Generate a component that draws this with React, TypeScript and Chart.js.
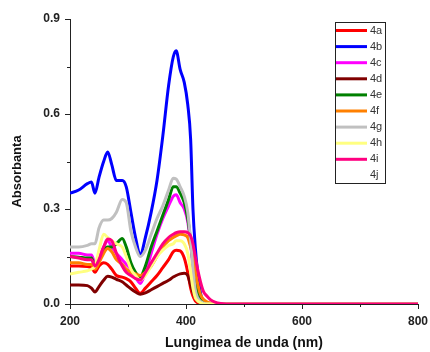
import React, { useEffect, useRef } from "react";
import { Chart, registerables } from "chart.js";

Chart.register(...registerables);

const wavelengths = [200, 215, 230, 237, 243, 250, 258, 265, 272, 280, 290, 297, 305, 313, 321, 330, 340, 350, 360, 370, 378, 383, 390, 397, 403, 408, 412, 416, 420, 425, 430, 436, 442, 450, 460, 480, 600, 800];

const series4a = [0.12, 0.12, 0.118, 0.115, 0.10, 0.12, 0.13, 0.125, 0.11, 0.09, 0.085, 0.08, 0.07, 0.05, 0.034, 0.05, 0.07, 0.09, 0.115, 0.14, 0.165, 0.17, 0.168, 0.145, 0.10, 0.05, 0.025, 0.01, 0.004, 0, 0, 0, 0, 0, 0, 0, 0, 0];
const series4b = [0.35, 0.36, 0.38, 0.385, 0.35, 0.40, 0.45, 0.48, 0.44, 0.39, 0.39, 0.37, 0.29, 0.21, 0.155, 0.21, 0.29, 0.39, 0.53, 0.69, 0.78, 0.80, 0.74, 0.70, 0.63, 0.52, 0.30, 0.18, 0.10, 0.035, 0.005, 0, 0, 0, 0, 0, 0, 0];
const series4c = [0.16, 0.16, 0.155, 0.155, 0.13, 0.15, 0.18, 0.20, 0.18, 0.16, 0.14, 0.125, 0.11, 0.085, 0.065, 0.10, 0.16, 0.22, 0.27, 0.31, 0.34, 0.345, 0.32, 0.30, 0.26, 0.19, 0.12, 0.06, 0.03, 0.015, 0.005, 0, 0, 0, 0, 0, 0, 0];
const series4d = [0.06, 0.06, 0.058, 0.05, 0.038, 0.055, 0.075, 0.088, 0.085, 0.078, 0.07, 0.06, 0.048, 0.038, 0.031, 0.035, 0.045, 0.055, 0.065, 0.075, 0.085, 0.09, 0.095, 0.097, 0.09, 0.06, 0.038, 0.02, 0.01, 0.004, 0, 0, 0, 0, 0, 0, 0, 0];
const series4e = [0.15, 0.148, 0.145, 0.145, 0.12, 0.14, 0.17, 0.18, 0.18, 0.19, 0.207, 0.18, 0.13, 0.10, 0.086, 0.12, 0.18, 0.23, 0.28, 0.33, 0.37, 0.37, 0.35, 0.32, 0.27, 0.20, 0.13, 0.07, 0.035, 0.015, 0.006, 0.002, 0, 0, 0, 0, 0, 0];
const series4f = [0.13, 0.13, 0.125, 0.125, 0.11, 0.13, 0.16, 0.175, 0.165, 0.14, 0.125, 0.11, 0.10, 0.095, 0.09, 0.10, 0.12, 0.15, 0.18, 0.20, 0.21, 0.215, 0.22, 0.218, 0.21, 0.18, 0.15, 0.105, 0.065, 0.03, 0.015, 0.007, 0.003, 0, 0, 0, 0, 0];
const series4g = [0.18, 0.18, 0.185, 0.19, 0.19, 0.24, 0.265, 0.265, 0.27, 0.29, 0.33, 0.32, 0.23, 0.18, 0.15, 0.17, 0.22, 0.27, 0.31, 0.36, 0.397, 0.395, 0.37, 0.34, 0.29, 0.20, 0.11, 0.045, 0.02, 0.008, 0.003, 0, 0, 0, 0, 0, 0, 0];
const series4h = [0.095, 0.10, 0.105, 0.11, 0.12, 0.17, 0.22, 0.21, 0.20, 0.19, 0.18, 0.15, 0.11, 0.09, 0.076, 0.09, 0.12, 0.15, 0.17, 0.185, 0.19, 0.20, 0.20, 0.19, 0.16, 0.10, 0.05, 0.02, 0.01, 0.004, 0, 0, 0, 0, 0, 0, 0, 0];
const series4i = [0.15, 0.145, 0.14, 0.14, 0.12, 0.14, 0.18, 0.205, 0.20, 0.16, 0.12, 0.10, 0.09, 0.08, 0.076, 0.10, 0.13, 0.16, 0.19, 0.21, 0.22, 0.225, 0.228, 0.228, 0.225, 0.215, 0.19, 0.15, 0.11, 0.07, 0.04, 0.025, 0.014, 0.006, 0.002, 0, 0, 0];
const series4j: number[] = [];

const seriesLabels = ["4a", "4b", "4c", "4d", "4e", "4f", "4g", "4h", "4i", "4j"];
const seriesValues = [series4a, series4b, series4c, series4d, series4e, series4f, series4g, series4h, series4i, series4j];
const seriesColors = ["#ff0000", "#0000ff", "#ff00ff", "#800000", "#008000", "#ff8000", "#c0c0c0", "#ffff80", "#ff0080", "rgba(0,0,0,0)"];

const yTickValues = [0, 0.3, 0.6, 0.9];
const xTickValues = [200, 400, 600, 800];
const yTitle = "Absorbanta";
const xTitle = "Lungimea de unda (nm)";

const FONT = "'Liberation Sans', Arial, sans-serif";

const outerTicks = {
  id: "outerTicks",
  afterDraw(chart: any) {
    const { ctx, scales } = chart;
    const x = scales.x;
    const y = scales.y;
    ctx.save();
    ctx.strokeStyle = "#222";
    ctx.lineWidth = 1;
    for (let v = 0; v <= 0.9001; v += 0.15) {
      const major = Math.abs(v / 0.3 - Math.round(v / 0.3)) < 1e-6;
      const py = Math.round(y.getPixelForValue(v)) + 0.5;
      ctx.beginPath();
      ctx.moveTo(x.left, py);
      ctx.lineTo(x.left - (major ? 5 : 3), py);
      ctx.stroke();
    }
    for (let v = 200; v <= 800; v += 100) {
      const major = v % 200 === 0;
      const px = Math.round(x.getPixelForValue(v)) + 0.5;
      ctx.beginPath();
      ctx.moveTo(px, y.bottom);
      ctx.lineTo(px, y.bottom + (major ? 5 : 3));
      ctx.stroke();
    }
    // y axis title
    ctx.translate(17, (chart.chartArea.top + chart.chartArea.bottom) / 2 + 10);
    ctx.rotate(-Math.PI / 2);
    ctx.font = `bold 13px ${FONT}`;
    ctx.fillStyle = "#111";
    ctx.textAlign = "center";
    ctx.textBaseline = "middle";
    ctx.fillText(yTitle, 0, 0);
    ctx.restore();
  },
};

const boxLegend = {
  id: "boxLegend",
  afterDraw(chart: any) {
    const { ctx, chartArea } = chart;
    const left = chartArea.right - 83;
    const top = chartArea.top + 3;
    const w = 50;
    const rowH = 16.1;
    const h = rowH * seriesLabels.length;
    ctx.save();
    ctx.strokeStyle = "#222";
    ctx.lineWidth = 1;
    ctx.strokeRect(left + 0.5, top + 0.5, w, h);
    ctx.font = `11px ${FONT}`;
    ctx.textBaseline = "middle";
    ctx.fillStyle = "#333";
    seriesLabels.forEach((lab, i) => {
      const cy = top + 8.5 + i * rowH;
      ctx.strokeStyle = seriesColors[i];
      ctx.lineWidth = 3;
      ctx.beginPath();
      ctx.moveTo(left + 1, cy);
      ctx.lineTo(left + 32, cy);
      ctx.stroke();
      ctx.fillText(lab, left + 35, cy);
    });
    ctx.restore();
  },
};

export default function App() {
  const ref = useRef<HTMLCanvasElement | null>(null);

  useEffect(() => {
    if (!ref.current) return;
    const datasets = seriesLabels.map((lab, i) => ({
      label: lab,
      data: seriesValues[i].map((v, k) => ({ x: wavelengths[k], y: v })),
      borderColor: seriesColors[i],
      backgroundColor: seriesColors[i],
      borderWidth: 3,
      pointRadius: 0,
      cubicInterpolationMode: "monotone" as const,
      fill: false,
      order: seriesLabels.length - i,
    }));

    const chart = new Chart(ref.current, {
      type: "line",
      data: { datasets },
      options: {
        responsive: false,
        animation: false,
        layout: { padding: { top: 19, right: 12, bottom: 0, left: 0 } },
        plugins: { legend: { display: false }, tooltip: { enabled: false } },
        scales: {
          x: {
            type: "linear",
            min: 200,
            max: 800,
            afterFit: (s: any) => { s.height = 48; s.paddingLeft = 0; s.paddingRight = 0; },
            afterBuildTicks: (s: any) => { s.ticks = xTickValues.map((v) => ({ value: v })); },
            grid: { drawOnChartArea: false, drawTicks: false },
            border: { display: true, color: "#222", width: 1 },
            ticks: {
              padding: 10,
              color: "#222",
              font: { family: FONT, size: 12, weight: "bold" },
              callback: (v: any) => String(v),
            },
            title: {
              display: true,
              text: xTitle,
              color: "#111",
              font: { family: FONT, size: 14, weight: "bold" },
              padding: { top: 0, bottom: 0 },
            },
          },
          y: {
            type: "linear",
            min: 0,
            max: 0.9,
            afterFit: (s: any) => { s.width = 70; s.paddingTop = 0; s.paddingBottom = 0; },
            afterBuildTicks: (s: any) => { s.ticks = yTickValues.map((v) => ({ value: v })); },
            grid: { drawOnChartArea: false, drawTicks: false },
            border: { display: true, color: "#222", width: 1 },
            ticks: {
              padding: 10,
              color: "#222",
              font: { family: FONT, size: 12, weight: "bold" },
              callback: (v: any) => Number(v).toFixed(1),
            },
            title: { display: false },
          },
        },
      },
      plugins: [outerTicks, boxLegend],
    } as any);

    return () => chart.destroy();
  }, []);

  return (
    <div style={{ position: "fixed", left: 0, top: 0, width: 430, height: 352, background: "#fff" }}>
      <canvas ref={ref} width={430} height={352} style={{ width: 430, height: 352, display: "block" }} />
    </div>
  );
}
